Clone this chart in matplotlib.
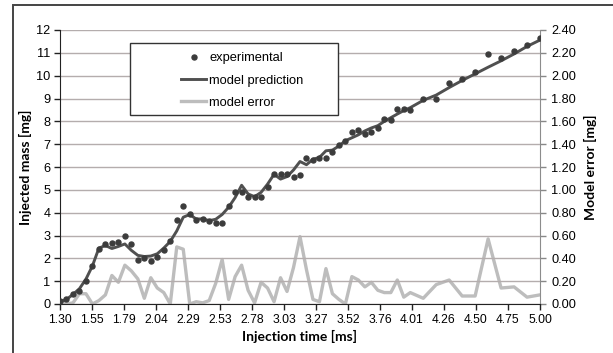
import matplotlib
matplotlib.use("Agg")
import matplotlib.pyplot as plt
from matplotlib.lines import Line2D
from matplotlib.patches import Rectangle

# ---------------- data ----------------
time_ms = [1.30, 1.35, 1.40, 1.45, 1.50, 1.55, 1.60, 1.65, 1.70, 1.75,
           1.80, 1.85, 1.90, 1.95, 2.00, 2.05, 2.10, 2.15, 2.20, 2.25,
           2.30, 2.35, 2.40, 2.45, 2.50, 2.55, 2.60, 2.65, 2.70, 2.75,
           2.80, 2.85, 2.90, 2.95, 3.00, 3.05, 3.10, 3.15, 3.20, 3.25,
           3.30, 3.35, 3.40, 3.45, 3.50, 3.55, 3.60, 3.65, 3.70, 3.75,
           3.80, 3.85, 3.90, 3.95, 4.00,
           4.10, 4.20, 4.30, 4.40, 4.50, 4.60, 4.70, 4.80, 4.90, 5.00]

experimental = [0.12, 0.20, 0.43, 0.58, 1.00, 1.67, 2.42, 2.64, 2.68, 2.71,
                2.97, 2.64, 1.91, 2.03, 1.87, 2.06, 2.35, 2.74, 3.70, 4.28,
                3.92, 3.70, 3.72, 3.62, 3.53, 3.53, 4.28, 4.90, 4.90, 4.70,
                4.70, 4.70, 5.11, 5.70, 5.70, 5.69, 5.55, 5.65, 6.40, 6.30,
                6.40, 6.40, 6.65, 6.96, 7.15, 7.52, 7.62, 7.43, 7.52, 7.69,
                8.10, 8.06, 8.53, 8.53, 8.50,
                8.97, 8.98, 9.69, 9.86, 10.15, 10.94, 10.79, 11.10, 11.34, 11.64]

model_prediction = [0.10, 0.20, 0.42, 0.67, 1.09, 1.67, 2.45, 2.56, 2.43, 2.52,
                    2.63, 2.35, 2.13, 2.08, 2.10, 2.20, 2.45, 2.74, 3.20, 3.80,
                    3.92, 3.72, 3.73, 3.65, 3.71, 3.92, 4.24, 4.66, 5.20, 4.82,
                    4.70, 4.89, 5.25, 5.68, 5.47, 5.58, 5.87, 6.24, 6.10, 6.34,
                    6.42, 6.71, 6.74, 6.92, 7.15, 7.28, 7.41, 7.58, 7.71, 7.81,
                    8.00, 8.16, 8.32, 8.47, 8.60,
                    8.92, 9.15, 9.48, 9.79, 10.08, 10.37, 10.65, 10.95, 11.28, 11.56]

model_error = [0.02, 0.00, 0.01, 0.09, 0.09, 0.00, 0.03, 0.08, 0.25, 0.19,
               0.34, 0.29, 0.22, 0.05, 0.23, 0.14, 0.10, 0.00, 0.50, 0.48,
               0.00, 0.02, 0.01, 0.03, 0.18, 0.39, 0.04, 0.24, 0.34, 0.12,
               0.01, 0.19, 0.14, 0.02, 0.23, 0.11, 0.32, 0.59, 0.30, 0.04,
               0.02, 0.31, 0.09, 0.04, 0.00, 0.24, 0.21, 0.15, 0.19, 0.12,
               0.10, 0.10, 0.21, 0.06, 0.10,
               0.05, 0.17, 0.21, 0.07, 0.07, 0.57, 0.14, 0.15, 0.06, 0.08]

x_tick_labels = ["1.30", "1.55", "1.79", "2.04", "2.29", "2.53", "2.78", "3.03",
                 "3.27", "3.52", "3.76", "4.01", "4.26", "4.50", "4.75", "5.00"]
left_ticks = list(range(0, 13))
right_tick_labels = ["0.00", "0.20", "0.40", "0.60", "0.80", "1.00", "1.20",
                     "1.40", "1.60", "1.80", "2.00", "2.20", "2.40"]

# ---------------- style ----------------
W, H = 613, 353
fig = plt.figure(figsize=(W / 100, H / 100), dpi=100)
fig.patch.set_facecolor("white")

FONT = "Liberation Sans"
LABFONT = "Lato"
tick_fs = 8.7
MS = 3.6

ax = fig.add_axes([60 / W, 1 - 304 / H, 480 / W, 274 / H])
ax.set_facecolor("white")
ax.set_xlim(1.30, 5.00)
ax.set_ylim(0, 12)

ax.set_yticks(left_ticks)
ax.yaxis.grid(True, color="#b4adad", lw=1.0)
ax.set_axisbelow(True)

n = len(x_tick_labels)
xt = [1.30 + (5.00 - 1.30) * i / (n - 1) for i in range(n)]
ax.set_xticks(xt)
ax.set_xticklabels(x_tick_labels, fontfamily=FONT, fontsize=tick_fs)
ax.set_yticklabels([str(v) for v in left_ticks], fontfamily=FONT, fontsize=tick_fs + 0.5)
ax.tick_params(axis="x", direction="out", length=4, width=1, color="#222", pad=3)
ax.tick_params(axis="y", direction="out", length=4, width=1, color="#222", pad=3)

for s in ["top", "right"]:
    ax.spines[s].set_visible(False)
ax.spines["left"].set_color("#222")
ax.spines["bottom"].set_color("#222")

ax.set_xlabel("Injection time [ms]", fontfamily=LABFONT, fontweight="bold",
              fontsize=10, labelpad=3)
ax.set_ylabel("Injected mass [mg]", fontfamily=LABFONT, fontweight="bold",
              fontsize=10, labelpad=3)

ax.plot(time_ms, model_prediction, color="#505050", lw=2.1, zorder=3)
ax.plot(time_ms, experimental, linestyle="none", marker="o", ms=MS,
        color="#3c3c3c", zorder=4)

ax2 = ax.twinx()
ax2.set_ylim(0, 2.4)
ax2.plot(time_ms, model_error, color="#bdbdbd", lw=2.4, zorder=2)
ax2.set_yticks([i * 0.2 for i in range(13)])
ax2.set_yticklabels(right_tick_labels, fontfamily=FONT, fontsize=tick_fs + 0.5)
ax2.tick_params(axis="y", direction="out", length=4, width=1, color="#888", pad=4)
for s in ["top", "left", "bottom"]:
    ax2.spines[s].set_visible(False)
ax2.spines["right"].set_color("#8c8c8c")
ax2.set_ylabel("Model error [mg]", fontfamily=LABFONT, fontweight="bold",
               fontsize=10, labelpad=6)
ax.set_zorder(ax2.get_zorder() + 1)
ax.patch.set_visible(False)

# legend box
fig.patches.append(Rectangle((130 / W, 1 - 115 / H), 208 / W, 72 / H,
                             transform=fig.transFigure, facecolor="white",
                             edgecolor="#333333", lw=1.0, zorder=5))
handles = [
    Line2D([], [], linestyle="none", marker="o", ms=MS, color="#3c3c3c"),
    Line2D([], [], color="#505050", lw=2.1),
    Line2D([], [], color="#bdbdbd", lw=2.4),
]
leg = fig.legend(handles, ["experimental", "model prediction", "model error"],
                 loc="upper left", bbox_to_anchor=(175 / W, 1 - 46 / H),
                 bbox_transform=fig.transFigure, frameon=False,
                 borderpad=0, handlelength=1.9, handletextpad=0.25,
                 labelspacing=0.78, prop={"family": FONT, "size": 9.3})
leg.set_zorder(6)

# outer chart border
fig.patches.append(Rectangle((13 / W, -0.2), 1.5, (H - 5) / H + 0.2,
                             transform=fig.transFigure, fill=False,
                             edgecolor="#444444", lw=1.4, zorder=0))

fig.savefig("out.png", dpi=100)
